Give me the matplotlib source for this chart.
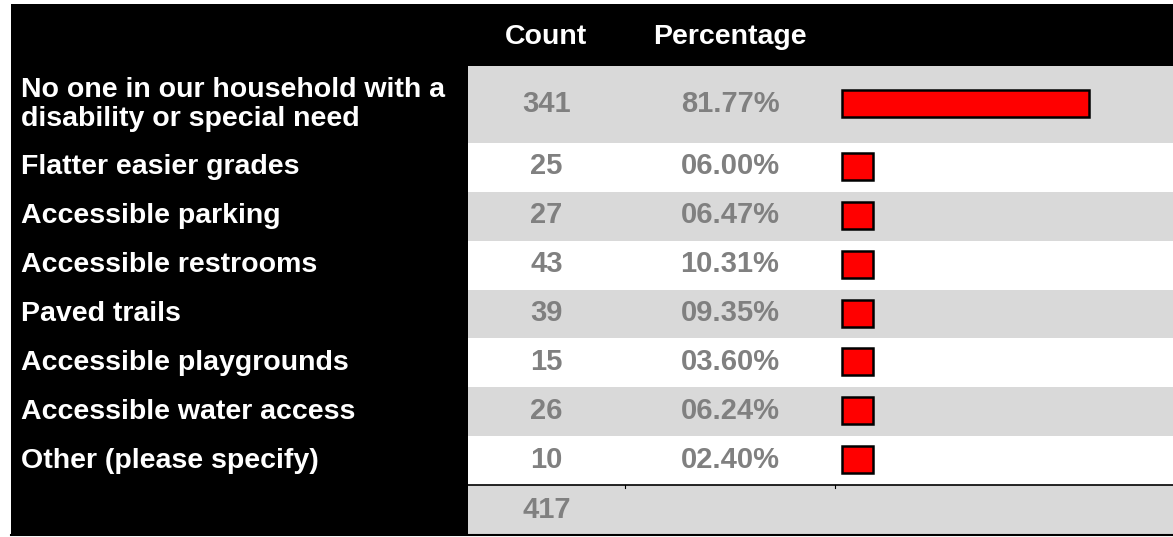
import numpy as np
import matplotlib.pyplot as plt
from matplotlib.patches import Rectangle

# Table data
labels = ["No one in our household with a\ndisability or special need",
          "Flatter easier grades",
          "Accessible parking",
          "Accessible restrooms",
          "Paved trails",
          "Accessible playgrounds",
          "Accessible water access",
          "Other (please specify)"]
counts = [341, 25, 27, 43, 39, 15, 26, 10]
pcts = [81.77, 6.00, 6.47, 10.31, 9.35, 3.60, 6.24, 2.40]
total = 417
headers = ["Count", "Percentage"]

W, H = 1173, 537
GRAY = "#d9d9d9"
TXT_GRAY = "#808080"
FONT = ["Liberation Sans", "DejaVu Sans"]

# layout in pixels
left, top = 11, 4
label_w = 468
col_count = (468, 625)
col_pct = (625, 835)
bar_x0 = 842
px_per_pct = 3.02
min_pct = 10.3          # short bars are drawn with a minimum length
header_bottom = 66
first_h = 77
row_h = (485 - 143) / 7
total_h = 50

fig = plt.figure(figsize=(W / 100, H / 100), dpi=100)
ax = fig.add_axes([0, 0, 1, 1])
ax.set_xlim(0, W)
ax.set_ylim(H, 0)
ax.axis("off")

ax.add_patch(Rectangle((left, top), W - left, 535 - top, color="black", lw=0))

# row boundaries
edges = [header_bottom, header_bottom + first_h]
for i in range(len(labels) - 1):
    edges.append(edges[-1] + row_h)
edges.append(edges[-1] + total_h)

def cell_text(x, y, s, color, size=20.5, **kw):
    ax.text(x, y, s, color=color, fontsize=size, fontweight="bold",
            family=FONT, va="center", **kw)

for i, h in enumerate(headers):
    c = col_count if i == 0 else col_pct
    cell_text((c[0] + c[1]) / 2, (top + header_bottom) / 2 + 2, h, "white", ha="center")

for i, (lab, n, p) in enumerate(zip(labels, counts, pcts)):
    y0, y1 = edges[i], edges[i + 1]
    yc = (y0 + y1) / 2
    bg = GRAY if i % 2 == 0 else "white"
    ax.add_patch(Rectangle((label_w, y0), W - label_w, y1 - y0, color=bg, lw=0))
    cell_text(21, yc, lab, "white", ha="left", linespacing=1.12)
    cell_text(sum(col_count) / 2, yc - 1, str(n), TXT_GRAY, size=21, ha="center")
    cell_text(sum(col_pct) / 2, yc - 1, "{:05.2f}%".format(p), TXT_GRAY, size=21, ha="center")
    ax.barh(yc - 1, max(p, min_pct) * px_per_pct, left=bar_x0, height=27,
            color="#ff0000", edgecolor="black", linewidth=1.8)

# total row
y0, y1 = edges[-2], edges[-1]
ax.add_patch(Rectangle((label_w, y0), W - label_w, y1 - y0, color=GRAY, lw=0))
ax.plot([label_w, W], [y0, y0], color="black", lw=1.2)
for xs in (col_pct[0], col_pct[1]):
    ax.plot([xs, xs], [y0, y0 + 3], color="black", lw=0.8)
cell_text(sum(col_count) / 2, (y0 + y1) / 2, str(total), TXT_GRAY, size=21, ha="center")
ax.plot([left, W], [535, 535], color="black", lw=1.5)

fig.savefig("out.png", dpi=100)
